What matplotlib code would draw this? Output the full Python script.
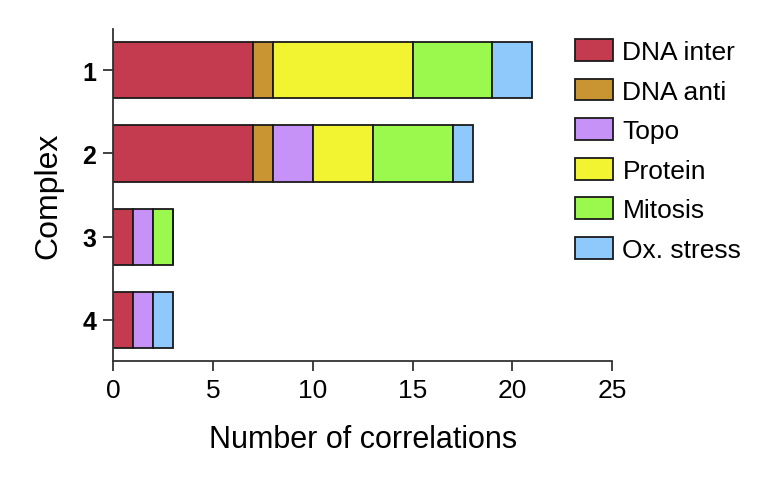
import matplotlib
matplotlib.use('Agg')
import matplotlib.pyplot as plt
import numpy as np

# ─── Data ───────────────────────────────────────────────────────────
complexes = ['1', '2', '3', '4']
categories = ['DNA inter', 'DNA anti', 'Topo', 'Protein', 'Mitosis', 'Ox. stress']
dna_inter = [7, 7, 1, 1]
dna_anti = [1, 1, 0, 0]
topo = [0, 2, 1, 1]
protein = [7, 3, 0, 0]
mitosis = [4, 4, 1, 0]
ox_stress = [2, 1, 0, 1]
series = [dna_inter, dna_anti, topo, protein, mitosis, ox_stress]
colors = ['#C43B4F', '#C99432', '#C692F8', '#F2F432', '#9BF84D', '#8FC8FB']

plt.rcParams['font.family'] = ['Liberation Sans', 'DejaVu Sans']

fig = plt.figure(figsize=(7.8, 4.81), dpi=100)
ax = fig.add_axes([0.145, 0.247, 0.64, 0.691])

y = np.arange(len(complexes))
left = np.zeros(len(complexes))
for name, vals, c in zip(categories, series, colors):
    vals = np.array(vals, dtype=float)
    ax.barh(y, vals, left=left, height=0.675, color=c, edgecolor='#1a1a1a',
            linewidth=1.3, label=name)
    left += vals

ax.set_xlim(0, 25)
ax.set_ylim(3.5, -0.5)
ax.set_xticks([0, 5, 10, 15, 20, 25])
ax.set_yticks(y)
ax.set_yticklabels(complexes, fontweight='bold', fontsize=18)
ax.tick_params(axis='x', labelsize=19, length=7, width=1.3, pad=5, color='#333333')
ax.tick_params(axis='y', length=7, width=1.3, pad=5, color='#333333')
for s in ['top', 'right']:
    ax.spines[s].set_visible(False)
for s in ['left', 'bottom']:
    ax.spines[s].set_linewidth(1.3)
    ax.spines[s].set_color('#333333')

ax.set_xlabel('Number of correlations', fontsize=22, labelpad=16)
ax.set_ylabel('Complex', fontsize=23, labelpad=14)

ax.legend(loc='upper left', bbox_to_anchor=(575 / 780, 1 - 40 / 481),
          bbox_transform=fig.transFigure, frameon=False, borderpad=0,
          borderaxespad=0, fontsize=19, handlelength=1.45, handleheight=0.9,
          labelspacing=0.55, handletextpad=0.35)

fig.savefig('out.png', dpi=100, facecolor='white')
